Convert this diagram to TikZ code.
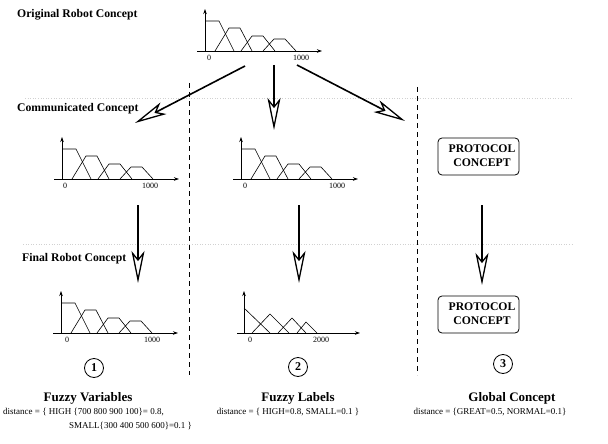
\documentclass[tikz,border=0pt]{standalone}
\usepackage{fontspec}
\setmainfont{Liberation Serif}
\usetikzlibrary{arrows.meta}
\tikzset{
  bigarrow/.style={line width=1.6pt, -{Stealth[open, length=32pt, width=13pt, inset=8pt, line width=1.3pt]}},
  axisline/.style={line width=0.7pt, -{Stealth[length=5pt, width=3.5pt]}},
  memb/.style={line width=0.6pt},
  ticklab/.style={font=\fontsize{8}{9}\selectfont, inner sep=0pt},
  rowlab/.style={font=\fontsize{11.7}{13}\selectfont\bfseries, inner sep=0pt, anchor=west},
  protobox/.style={draw, rounded corners=4pt, line width=0.8pt, minimum width=81pt, minimum height=37pt, inner sep=0pt},
  prototext/.style={font=\fontsize{11.7}{14}\selectfont\bfseries, align=center, inner sep=0pt},
  numcirc/.style={draw, circle, line width=0.8pt, minimum size=19pt, inner sep=0pt, font=\fontsize{12}{12}\selectfont\bfseries},
  colhead/.style={font=\fontsize{13}{15}\selectfont\bfseries, inner sep=0pt},
  disttext/.style={font=\fontsize{9}{10}\selectfont, inner sep=0pt},
  sepline/.style={line width=0.8pt, dash pattern=on 5pt off 4pt},
  guide/.style={black!18, dotted, line width=0.6pt},
}
% #1 ox, #2 oy, #3 zero label x, #4 thousand label x, #5 name
\newcommand\trapchart[5]{%
 \begin{scope}[shift={(#1,#2)}]
  \draw[axisline] (-8,0) -- (117,0);
  \draw[axisline] (0,0) -- (0,-42);
  \draw[memb] (0,-30) -- (14,-30) -- (29,0);
  \draw[memb] (10,0) -- (24,-23) -- (35,-23) -- (47,0);
  \draw[memb] (36,0) -- (47,-15) -- (58,-15) -- (70,0);
  \draw[memb] (58,0) -- (69,-12) -- (80,-12) -- (91,0);
  \node[ticklab] (#5z) at (#3,7) {0};
  \node[ticklab] (#5t) at (#4,7) {1000};
 \end{scope}}
\begin{document}
\begin{tikzpicture}[x=1pt,y=-1pt]
\useasboundingbox (0,0) rectangle (608,444);
% guides
\draw[guide] (25,98) -- (573,98);
\draw[guide] (23,244) -- (573,244);
% separators
\draw[sepline] (189,83) -- (189,375);
\draw[sepline] (417,87) -- (417,375);
% row labels
\node[rowlab] (lorig) at (17,15) {Original Robot Concept};
\node[rowlab] (lcomm) at (17,109) {Communicated Concept};
\node[rowlab] (lfinal) at (22,259) {Final Robot Concept};
% charts
\trapchart{205}{51}{4}{96}{ctop}
\trapchart{62}{179}{3}{88}{ccl}
\trapchart{241}{179}{4}{96}{ccm}
\trapchart{61}{333}{6}{91}{cfl}
% fuzzy labels chart
\begin{scope}[shift={(244,333)}]
  \draw[axisline] (-7,0) -- (116,0);
  \draw[axisline] (0,0) -- (0,-42);
  \draw[memb] (0,-25) -- (26,0);
  \draw[memb] (8,0) -- (26,-19) -- (45,0);
  \draw[memb] (34,0) -- (48,-15) -- (62,0);
  \draw[memb] (53,0) -- (62,-11) -- (73,0);
  \node[ticklab] (cflz) at (6,7) {0};
  \node[ticklab] (cflt) at (77,7) {2000};
\end{scope}
% protocol boxes
\node[protobox] (pb1) at (478.5,156.5) {};
\node[prototext] (pt1) at (482,156) {PROTOCOL\\CONCEPT};
\node[protobox] (pb2) at (478.5,314.5) {};
\node[prototext] (pt2) at (482,314) {PROTOCOL\\CONCEPT};
% arrows
\coordinate (a1s) at (245,66); \coordinate (a1e) at (135,123);
\coordinate (a2s) at (274,65); \coordinate (a2e) at (274,130);
\coordinate (a3s) at (297,65); \coordinate (a3e) at (405,121);
\coordinate (b1s) at (138,205); \coordinate (b1e) at (138,283);
\coordinate (b2s) at (299,205); \coordinate (b2e) at (299,283);
\coordinate (b3s) at (482,205); \coordinate (b3e) at (482,285);
\draw[bigarrow] (a1s) -- (a1e);
\draw[bigarrow] (a2s) -- (a2e);
\draw[bigarrow] (a3s) -- (a3e);
\draw[bigarrow] (b1s) -- (b1e);
\draw[bigarrow] (b2s) -- (b2e);
\draw[bigarrow] (b3s) -- (b3e);
% numbers
\node[numcirc] (n1) at (94,368) {1};
\node[numcirc] (n2) at (298,367) {2};
\node[numcirc] (n3) at (503,364) {3};
% column heads
\node[colhead] (h1) at (88,398) {Fuzzy Variables};
\node[colhead] (h2) at (298,398) {Fuzzy Labels};
\node[colhead] (h3) at (512,398) {Global Concept};
% distances
\node[disttext, anchor=west] (d1a) at (3,412) {distance = \{ HIGH \{700 800 900 100\}= 0.8,};
\node[disttext, anchor=west] (d1b) at (69,426) {SMALL\{300 400 500 600\}=0.1 \}};
\node[disttext] (d2) at (288,412) {distance = \{ HIGH=0.8, SMALL=0.1 \}};
\node[disttext] (d3) at (490,412) {distance = \{GREAT=0.5, NORMAL=0.1\}};
\end{tikzpicture}
\end{document}
